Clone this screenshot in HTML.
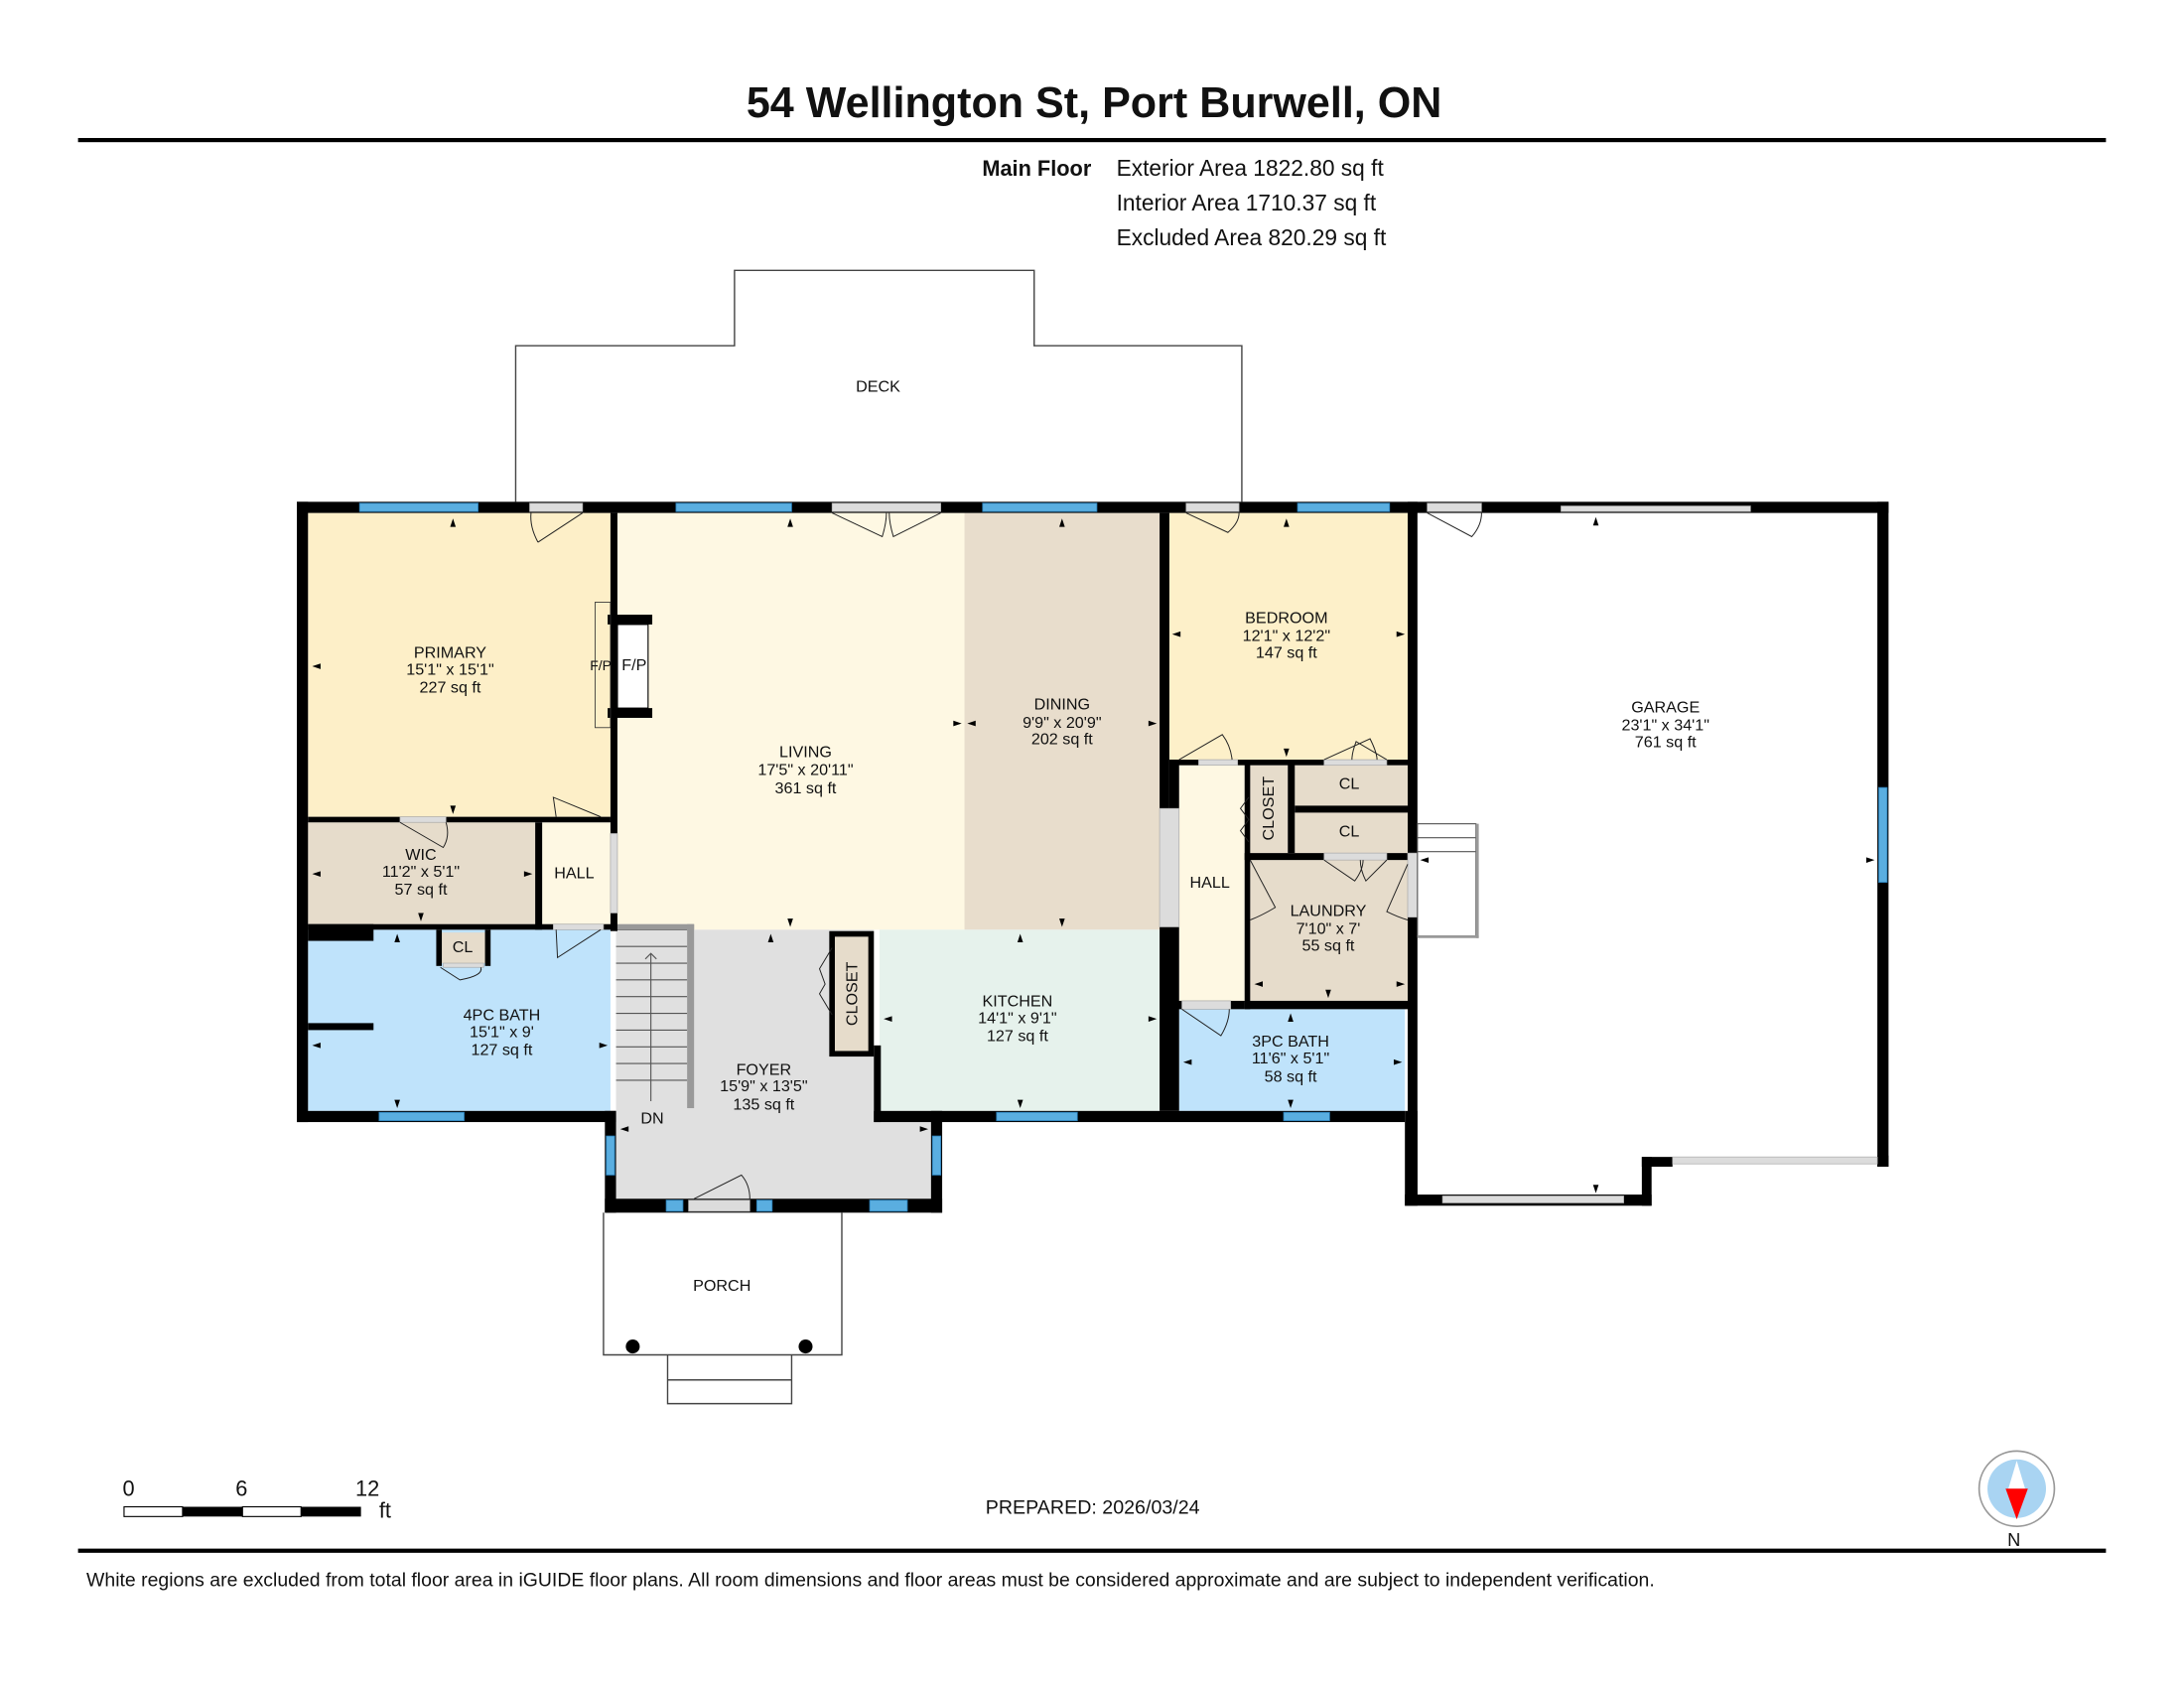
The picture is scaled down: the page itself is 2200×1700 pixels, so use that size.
<!DOCTYPE html>
<html><head><meta charset="utf-8"><style>
html,body{margin:0;padding:0;background:#fff;}
svg{display:block;}
text{font-family:"Liberation Sans",Arial,sans-serif;fill:#111;}
</style></head><body>
<svg width="2200" height="1700" viewBox="0 0 1567 1211" preserveAspectRatio="none" xmlns="http://www.w3.org/2000/svg">
<rect width="1567" height="1211" fill="#fff"/>
<text x="785" y="84" font-size="30.7" font-weight="bold" text-anchor="middle">54 Wellington St, Port Burwell, ON</text>
<rect x="56" y="99" width="1455" height="3" fill="#000"/>
<text x="783" y="126" font-size="15.5" font-weight="bold" text-anchor="end">Main Floor</text>
<text x="801" y="126" font-size="16.2">Exterior Area 1822.80 sq ft</text>
<text x="801" y="151" font-size="16.2">Interior Area 1710.37 sq ft</text>
<text x="801" y="176" font-size="16.2">Excluded Area 820.29 sq ft</text>

<polyline points="370,360 370,248 527,248 527,194 742,194 742,248 891,248 891,360" fill="none" stroke="#444" stroke-width="1"/>
<text x="630" y="281" font-size="11.5" text-anchor="middle">DECK</text>

<rect x="221" y="368" width="217" height="218" fill="#fdefc8"/>
<rect x="442" y="368" width="250" height="299" fill="#fef8e3"/>
<rect x="692" y="368" width="140" height="299" fill="#e8ddcc"/>
<rect x="839" y="368" width="171" height="177" fill="#fdf0c9"/>
<rect x="221" y="590" width="163" height="73" fill="#e6dccb"/>
<rect x="389" y="590" width="49" height="73" fill="#fef8e3"/>
<rect x="221" y="667" width="217" height="130" fill="#bfe3fb"/>
<rect x="442" y="667" width="185" height="193" fill="#e0e0e0"/>
<rect x="442" y="797" width="226" height="63" fill="#e0e0e0"/>
<rect x="631" y="667" width="201" height="130" fill="#e6f2ec"/>
<rect x="597" y="670" width="28" height="86" fill="#e6dccb" stroke="#000" stroke-width="4"/>
<rect x="846" y="547" width="47" height="171" fill="#fef8e3"/>
<rect x="897" y="549" width="27" height="63" fill="#e6dccb"/>
<rect x="929" y="549" width="81" height="29" fill="#e6dccb"/>
<rect x="929" y="583" width="81" height="29" fill="#e6dccb"/>
<rect x="897" y="617" width="113" height="101" fill="#e6dccb"/>
<rect x="846" y="724" width="162" height="73" fill="#bfe3fb"/>
<rect x="316" y="669" width="33" height="22" fill="#e6dccb"/>

<g stroke="#555" stroke-width="0.8" fill="none">
<rect x="442" y="663" width="55" height="132" fill="#e0e0e0" stroke="none"/>
<line x1="442" y1="679" x2="493" y2="679"/><line x1="442" y1="691" x2="493" y2="691"/><line x1="442" y1="703" x2="493" y2="703"/>
<line x1="442" y1="715" x2="493" y2="715"/><line x1="442" y1="727" x2="493" y2="727"/><line x1="442" y1="739" x2="493" y2="739"/>
<line x1="442" y1="751" x2="493" y2="751"/><line x1="442" y1="763" x2="493" y2="763"/><line x1="442" y1="775" x2="493" y2="775"/>
<line x1="442" y1="667" x2="493" y2="667"/>
<line x1="467" y1="684" x2="467" y2="790"/>
<polyline points="463,688 467,684 471,688"/>
</g>
<rect x="493" y="663" width="5" height="132" fill="#999"/>
<rect x="442" y="663" width="56" height="4" fill="#999"/>

<g fill="#000">
<rect x="213" y="360" width="1142" height="8"/>
<rect x="213" y="360" width="8" height="445"/>
<rect x="213" y="797" width="229" height="8"/>
<rect x="438" y="368" width="5" height="300"/>
<rect x="221" y="586" width="217" height="4"/>
<rect x="384" y="590" width="5" height="77"/>
<rect x="221" y="663" width="221" height="4"/>
<rect x="221" y="663" width="47" height="12"/>
<rect x="221" y="734" width="47" height="5"/>
<rect x="313" y="667" width="4" height="26"/>
<rect x="348" y="667" width="4" height="26"/>
<rect x="434" y="797" width="8" height="73"/>
<rect x="434" y="860" width="242" height="10"/>
<rect x="668" y="797" width="8" height="73"/>
<rect x="627" y="750" width="5" height="55"/>
<rect x="627" y="797" width="381" height="8"/>
<rect x="832" y="368" width="7" height="212"/>
<rect x="832" y="665" width="14" height="132"/>
<rect x="839" y="545" width="174" height="4"/>
<rect x="839" y="545" width="7" height="35"/>
<rect x="1010" y="360" width="7" height="252"/>
<rect x="1010" y="658" width="7" height="200"/>
<rect x="1008" y="797" width="9" height="68"/>
<rect x="1008" y="857" width="177" height="8"/>
<rect x="1178" y="830" width="7" height="35"/>
<rect x="1178" y="830" width="22" height="7"/>
<rect x="1347" y="360" width="8" height="477"/>
<rect x="1347" y="829" width="8" height="8"/>
<rect x="893" y="547" width="4" height="177"/>
<rect x="924" y="547" width="5" height="65"/>
<rect x="893" y="612" width="117" height="5"/>
<rect x="929" y="578" width="81" height="5"/>
<rect x="893" y="718" width="117" height="6"/>
<rect x="842" y="718" width="51" height="6"/>
<rect x="436" y="441" width="32" height="7"/>
<rect x="436" y="508" width="32" height="7"/>
</g>
<rect x="443" y="448" width="22" height="60" fill="#fff" stroke="#000" stroke-width="0.8"/>
<rect x="427" y="432" width="11" height="90" fill="none" stroke="#333" stroke-width="0.6"/>

<g fill="#5aaee0" stroke="#2a7fb8" stroke-width="0.6">
<rect x="258" y="361" width="85" height="6"/>
<rect x="485" y="361" width="83" height="6"/>
<rect x="705" y="361" width="82" height="6"/>
<rect x="931" y="361" width="66" height="6"/>
<rect x="272" y="798" width="61" height="6"/>
<rect x="435" y="815" width="6" height="28"/>
<rect x="669" y="815" width="6" height="28"/>
<rect x="478" y="861" width="12" height="8"/>
<rect x="543" y="861" width="11" height="8"/>
<rect x="624" y="861" width="27" height="8"/>
<rect x="715" y="798" width="58" height="6"/>
<rect x="921" y="798" width="33" height="6"/>
<rect x="1348" y="565" width="6" height="68"/>
</g>
<g fill="#dcdcdc" stroke="#aaa" stroke-width="0.5">
<rect x="380" y="361" width="38" height="6"/>
<rect x="597" y="361" width="78" height="6"/>
<rect x="851" y="361" width="38" height="6"/>
<rect x="1024" y="361" width="39" height="6"/>
<rect x="1120" y="363" width="136" height="4"/>
<rect x="1035" y="858" width="130" height="5"/>
<rect x="1200" y="830" width="147" height="5"/>
<rect x="287" y="586" width="33" height="4"/>
<rect x="438" y="598" width="5" height="57"/>
<rect x="494" y="861" width="44" height="8"/>
<rect x="832" y="580" width="14" height="85"/>
<rect x="1010" y="612" width="7" height="46"/>
<rect x="950" y="612" width="45" height="5"/>
<rect x="860" y="545" width="28" height="4"/>
<rect x="950" y="545" width="45" height="4"/>
<rect x="848" y="718" width="35" height="6"/>
<rect x="397" y="663" width="36" height="4"/>
<rect x="318" y="691" width="29" height="3"/>
</g>
<g fill="none" stroke="#222" stroke-width="0.7">
<path d="M418,368 L386,389 M386,389 Q380,378 381,368"/>
<path d="M597,368 L633,385 Q636,375 636,368 M675,368 L641,385 Q638,375 638,368"/>
<path d="M851,368 L881,382 Q889,375 889,368"/>
<path d="M1024,368 L1056,385 Q1063,377 1063,368"/>
<path d="M399,586 L397,572 L431,586"/>
<path d="M287,590 L318,608 Q323,600 320,590"/>
<path d="M399,667 L400,687 L431,667"/>
<path d="M316,694 L330,703 Q347,700 345,694"/>
<path d="M498,860 L532,843 Q538,850 538,860"/>
<path d="M597,680 L588,695 L592,706 L588,713 L597,728"/>
<path d="M846,545 L877,527 Q883,535 884,545"/>
<path d="M950,545 L983,530 Q988,540 988,545 M995,545 L973,532 Q970,540 970,545"/>
<path d="M896,572 L890,580 L896,588 L890,596 L896,604"/>
<path d="M897,617 L915,651 Q905,657 897,660"/>
<path d="M950,617 L972,632 Q978,624 978,617 M995,617 L980,632 Q976,624 976,617"/>
<path d="M1010,620 L995,654 Q1003,658 1010,660"/>
<path d="M848,724 L876,743 Q882,733 882,724"/>
</g>
<g fill="none" stroke="#555" stroke-width="0.8">
<rect x="1017" y="591" width="42" height="81"/>
<line x1="1017" y1="601" x2="1059" y2="601"/><line x1="1017" y1="611" x2="1059" y2="611"/>
</g>
<rect x="1059" y="591" width="2" height="82" fill="#999"/>
<rect x="1017" y="671" width="44" height="2" fill="#999"/>

<g fill="none" stroke="#444" stroke-width="1">
<polyline points="433,870 433,972 604,972 604,870"/>
<polyline points="479,972 479,1007 568,1007 568,972"/>
<line x1="479" y1="990" x2="568" y2="990"/>
</g>
<circle cx="454" cy="966" r="5" fill="#000"/><circle cx="578" cy="966" r="5" fill="#000"/>
<text x="518" y="926" font-size="11.5" text-anchor="middle">PORCH</text>

<g font-size="11.5" text-anchor="middle">
<text x="323" y="472">PRIMARY</text><text x="323" y="484">15'1" x 15'1"</text><text x="323" y="497">227 sq ft</text>
<text x="578" y="543">LIVING</text><text x="578" y="556">17'5" x 20'11"</text><text x="578" y="569">361 sq ft</text>
<text x="762" y="509">DINING</text><text x="762" y="522">9'9" x 20'9"</text><text x="762" y="534">202 sq ft</text>
<text x="923" y="447">BEDROOM</text><text x="923" y="460">12'1" x 12'2"</text><text x="923" y="472">147 sq ft</text>
<text x="1195" y="511">GARAGE</text><text x="1195" y="524">23'1" x 34'1"</text><text x="1195" y="536">761 sq ft</text>
<text x="302" y="617">WIC</text><text x="302" y="629">11'2" x 5'1"</text><text x="302" y="642">57 sq ft</text>
<text x="412" y="630">HALL</text>
<text x="332" y="683">CL</text>
<text x="360" y="732">4PC BATH</text><text x="360" y="744">15'1" x 9'</text><text x="360" y="757">127 sq ft</text>
<text x="548" y="771">FOYER</text><text x="548" y="783">15'9" x 13'5"</text><text x="548" y="796">135 sq ft</text>
<text x="468" y="806">DN</text>
<text x="730" y="722">KITCHEN</text><text x="730" y="734">14'1" x 9'1"</text><text x="730" y="747">127 sq ft</text>
<text x="868" y="637">HALL</text>
<text x="968" y="566">CL</text><text x="968" y="600">CL</text>
<text x="953" y="657">LAUNDRY</text><text x="953" y="670">7'10" x 7'</text><text x="953" y="682">55 sq ft</text>
<text x="926" y="751">3PC BATH</text><text x="926" y="763">11'6" x 5'1"</text><text x="926" y="776">58 sq ft</text>
<text x="455" y="481">F/P</text>
<text x="431" y="481" font-size="10">F/P</text>
<text transform="translate(615,713) rotate(-90)">CLOSET</text>
<text transform="translate(914,580) rotate(-90)">CLOSET</text>
</g>
<g fill="#000">
<path d="M325,372 l-2,6 h4z"/><path d="M325,584 l-2,-6 h4z"/><path d="M224,478 l6,-2 v4z"/>
<path d="M567,372 l-2,6 h4z"/><path d="M567,665 l-2,-6 h4z"/><path d="M690,519 l-6,-2 v4z"/>
<path d="M762,372 l-2,6 h4z"/><path d="M762,665 l-2,-6 h4z"/><path d="M694,519 l6,-2 v4z"/><path d="M830,519 l-6,-2 v4z"/>
<path d="M923,372 l-2,6 h4z"/><path d="M923,543 l-2,-6 h4z"/><path d="M841,455 l6,-2 v4z"/><path d="M1008,455 l-6,-2 v4z"/>
<path d="M1145,371 l-2,6 h4z"/><path d="M1145,856 l-2,-6 h4z"/><path d="M1345,617 l-6,-2 v4z"/><path d="M1019,617 l6,-2 v4z"/>
<path d="M224,627 l6,-2 v4z"/><path d="M382,627 l-6,-2 v4z"/><path d="M302,661 l-2,-6 h4z"/>
<path d="M285,670 l-2,6 h4z"/><path d="M285,795 l-2,-6 h4z"/><path d="M224,750 l6,-2 v4z"/><path d="M436,750 l-6,-2 v4z"/>
<path d="M553,670 l-2,6 h4z"/><path d="M445,810 l6,-2 v4z"/><path d="M666,810 l-6,-2 v4z"/>
<path d="M732,670 l-2,6 h4z"/><path d="M732,795 l-2,-6 h4z"/><path d="M634,731 l6,-2 v4z"/><path d="M830,731 l-6,-2 v4z"/>
<path d="M926,727 l-2,6 h4z"/><path d="M926,795 l-2,-6 h4z"/><path d="M849,762 l6,-2 v4z"/><path d="M1006,762 l-6,-2 v4z"/>
<path d="M900,706 l6,-2 v4z"/><path d="M1008,706 l-6,-2 v4z"/><path d="M953,716 l-2,-6 h4z"/>
</g>

<g font-size="15.5">
<text x="88" y="1073">0</text><text x="169" y="1073">6</text><text x="255" y="1073">12</text><text x="272" y="1089">ft</text>
</g>
<rect x="89" y="1081" width="42" height="7" fill="#fff" stroke="#000" stroke-width="0.8"/>
<rect x="131" y="1081" width="43" height="7" fill="#000"/>
<rect x="174" y="1081" width="42" height="7" fill="#fff" stroke="#000" stroke-width="0.8"/>
<rect x="216" y="1081" width="43" height="7" fill="#000"/>
<text x="784" y="1086" font-size="14" text-anchor="middle">PREPARED: 2026/03/24</text>
<circle cx="1447" cy="1068" r="27" fill="#fff" stroke="#999" stroke-width="1.2"/>
<circle cx="1447" cy="1068" r="21" fill="#a9d4f2"/>
<path d="M1441,1068 L1447,1048 L1453,1068z" fill="#fff"/>
<path d="M1439,1068 L1455,1068 L1447,1090z" fill="#f00"/>
<text x="1445" y="1109" font-size="13" text-anchor="middle">N</text>
<rect x="56" y="1111" width="1455" height="3" fill="#000"/>
<text x="62" y="1138" font-size="13.85">White regions are excluded from total floor area in iGUIDE floor plans. All room dimensions and floor areas must be considered approximate and are subject to independent verification.</text>
</svg>
</body></html>
